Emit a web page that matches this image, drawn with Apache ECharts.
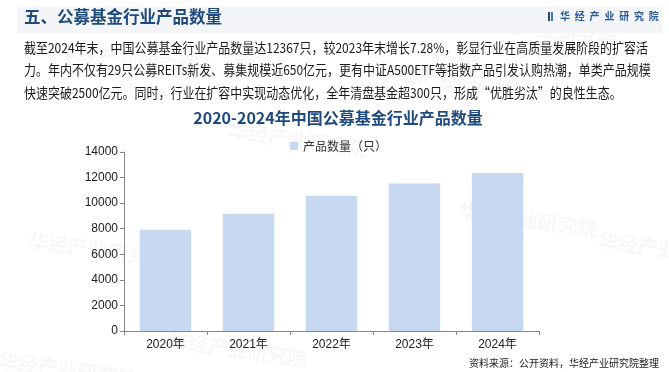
<!DOCTYPE html>
<html><head><meta charset="utf-8">
<script src="https://cdn.jsdelivr.net/npm/echarts@6/dist/echarts.min.js"></script>
<style>html,body{margin:0;padding:0;background:#fff}#c{width:669px;height:372px}</style>
</head><body><div id="c"></div>
<script>
const categories = ['2020年','2021年','2022年','2023年','2024年'];
const productCounts = [7913, 9175, 10576, 11528, 12367];
const seriesName = '产品数量（只）';
const yTicks = {min: 0, max: 14000, interval: 2000};
const headerTitle = '五、公募基金行业产品数量';
const brandText = '华经产业研究院';
const chartTitle = '2020-2024年中国公募基金行业产品数量';
const paragraphLines = [
  '截至2024年末，中国公募基金行业产品数量达12367只，较2023年末增长7.28%，彰显行业在高质量发展阶段的扩容活',
  '力。年内不仅有29只公募REITs新发、募集规模近650亿元，更有中证A500ETF等指数产品引发认购热潮，单类产品规模',
  '快速突破2500亿元。同时，行业在扩容中实现动态优化，全年清盘基金超300只，形成“优胜劣汰”的良性生态。'
];
const sourceText = '资料来源：公开资料，华经产业研究院整理';

const CJK = '"Microsoft YaHei","Noto Sans CJK SC",sans-serif';
const chart = echarts.init(document.getElementById('c'));

const pFont = '13.5px ' + CJK;
const ctx = document.createElement('canvas').getContext('2d');
ctx.font = pFont;
const w1 = ctx.measureText(paragraphLines[0]).width;
const pScale = 624 / w1;

const wm = [[60,40,-8],[380,60,-8],[30,230,-8],[230,120,-8],[460,200,-8],[600,230,-8],[0,350,-8],[170,330,-8],[480,10,-8]];
const graphics = [
  {type:'rect', shape:{x:17,y:7,width:645,height:26}, style:{fill:'#f3f5f8'}, z:0},
  {type:'text', left:24, top:8, style:{text:headerTitle, font:'bold 16.5px '+CJK, fill:'#1f4a7e'}},
  {type:'rect', shape:{x:548,y:12,width:2,height:9}, style:{fill:'#1f4a7e'}},
  {type:'rect', shape:{x:551,y:12,width:2,height:9}, style:{fill:'#4a76b0'}},
];
brandText.split('').forEach((ch,i)=>{
  graphics.push({type:'text', x:560+i*14.8, y:11, style:{text:ch, font:'bold 10px '+CJK, fill:'#2a5a9a'}});
});
paragraphLines.forEach((t,i)=>{
  graphics.push({type:'text', x:24, y:41+i*22.5, scaleX:pScale, style:{text:t, font:pFont, fill:'#1a1a1a'}});
});
graphics.push({type:'text', right:10, top:358, style:{text:sourceText, font:'10px '+CJK, fill:'#222'}});
wm.forEach(p=>{
  graphics.push({type:'text', x:p[0], y:p[1], rotation:p[2]*Math.PI/180, style:{text:brandText, font:'bold 20px '+CJK, fill:'rgba(180,190,205,0.12)'}, z:-1, silent:true});
});

chart.setOption({
  backgroundColor:'#fff',
  animation:false,
  title:{text:chartTitle, left:333, textAlign:'center', top:105, textStyle:{fontSize:16, fontWeight:'bold', color:'#1f4a7e', fontFamily:CJK}},
  legend:{data:[seriesName], top:135, left:285, itemWidth:8, itemHeight:8, itemGap:4, icon:'rect',
    textStyle:{fontSize:12, color:'#333', fontFamily:CJK}},
  grid:{left:124, right:130, top:152, bottom:41, containLabel:false},
  xAxis:{type:'category', data:categories, boundaryGap:true,
    axisLine:{lineStyle:{color:'#888'}}, axisTick:{show:true, alignWithLabel:false, length:4, lineStyle:{color:'#888'}},
    axisLabel:{fontSize:12, color:'#222', fontFamily:'Arial,"Liberation Sans",'+CJK, margin:8}},
  yAxis:{type:'value', min:yTicks.min, max:yTicks.max, interval:yTicks.interval,
    axisLine:{show:true, lineStyle:{color:'#888'}}, axisTick:{show:true, length:4, lineStyle:{color:'#888'}},
    splitLine:{show:false},
    axisLabel:{fontSize:12, color:'#222', fontFamily:'Arial,"Liberation Sans",sans-serif', margin:6, formatter:v=>String(v)}},
  series:[{name:seriesName, type:'bar', data:productCounts, barCategoryGap:'38%', itemStyle:{color:'#c6d9f1'}}],
  graphic:graphics
});
</script></body></html>
